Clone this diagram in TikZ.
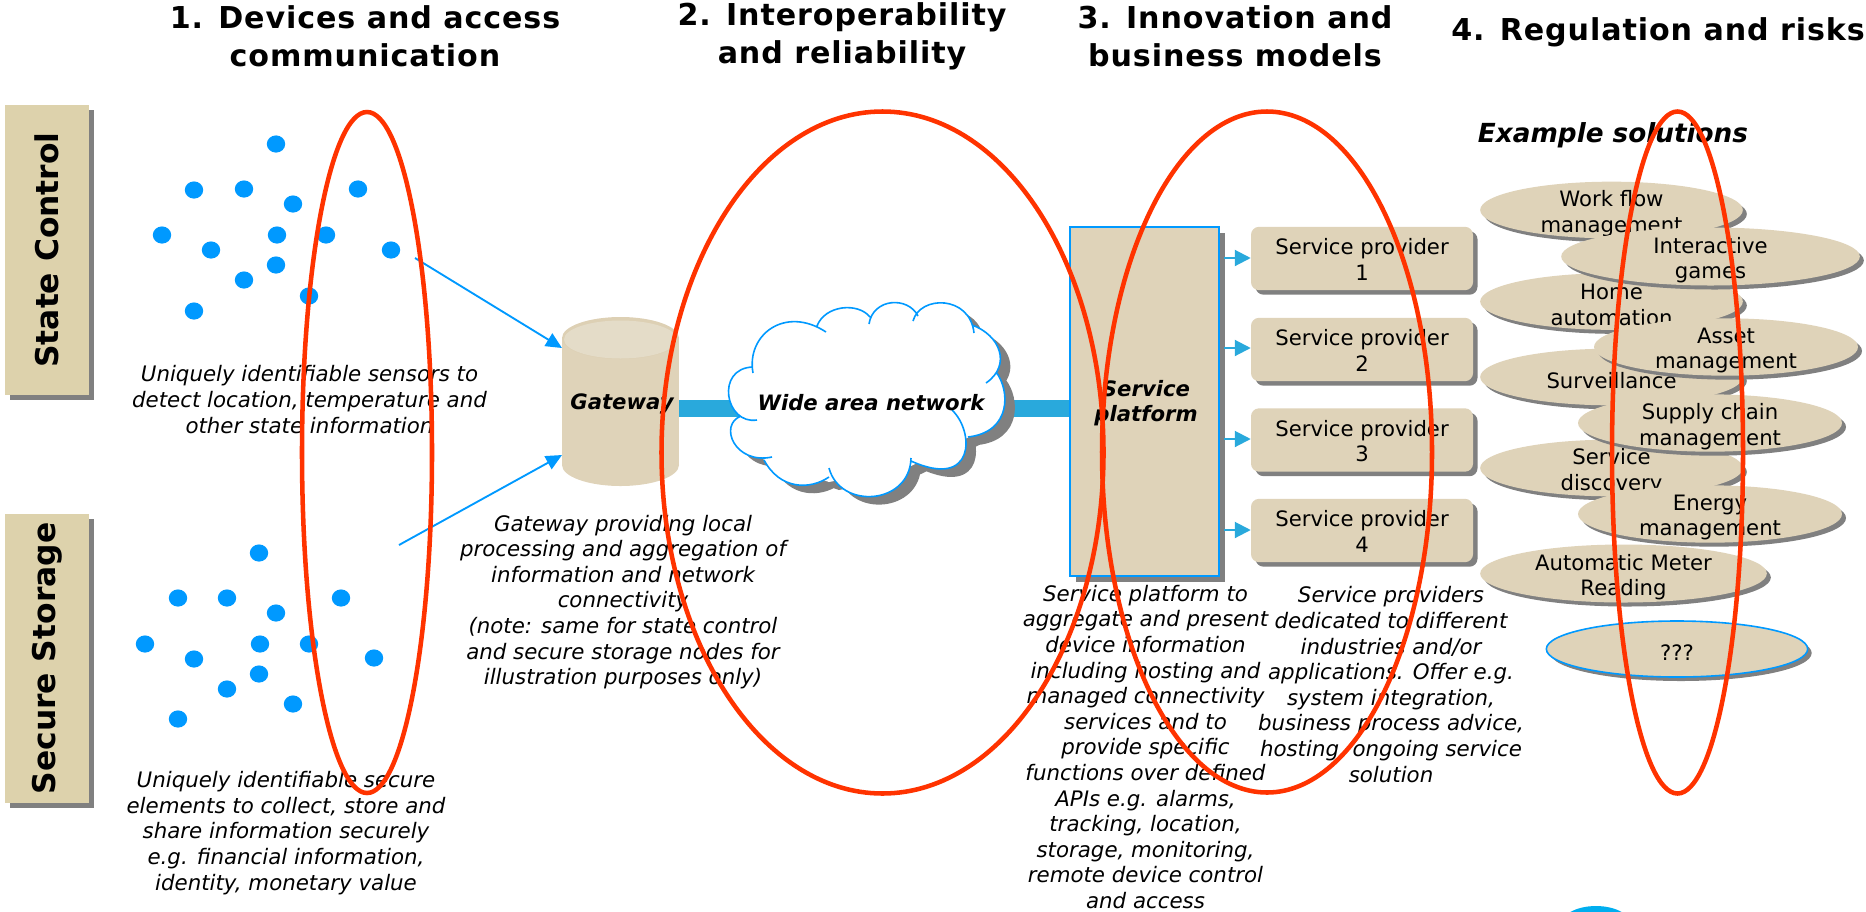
\documentclass[tikz,border=0pt]{standalone}
\usepackage{fontspec}
\usepackage{graphicx}
\setmainfont{DejaVu Sans}
\newfontfamily\headfont[LetterSpace=3]{DejaVu Sans}
\usetikzlibrary{arrows.meta,shapes.geometric,shadows}
\definecolor{tanfill}{HTML}{DFD3B9}
\definecolor{tanbox}{HTML}{DDD2AC}
\definecolor{tantop}{HTML}{E4DCC8}
\definecolor{tanrim}{HTML}{DDD0B4}
\definecolor{shadowgrey}{HTML}{808080}
\definecolor{sky}{HTML}{0099FF}
\definecolor{trunkblue}{HTML}{29A9DC}
\definecolor{redring}{HTML}{FF3300}
\definecolor{blob}{HTML}{00AEEF}
\tikzset{
  x=0.75pt,y=-0.75pt,
  headtext/.style={font=\headfont\fontsize{22.6}{28.5}\selectfont\bfseries,align=center,inner sep=0pt},
  note/.style={font=\fontsize{16}{19.2}\selectfont\itshape,align=center,inner sep=0pt},
  strong/.style={font=\fontsize{15.9}{19.2}\selectfont\bfseries\itshape,align=center,inner sep=0pt},
  sidebox/.style={rectangle,fill=tanbox,minimum width=63pt,inner sep=0pt,font=\fontsize{23.5}{26}\selectfont\bfseries,
     drop shadow={shadow xshift=3.9pt,shadow yshift=-3.9pt,fill=shadowgrey,opacity=1}},
  platform/.style={rectangle,fill=tanfill,draw=sky,line width=1.3pt,minimum width=111.7pt,minimum height=261.7pt,inner sep=0pt,
     drop shadow={shadow xshift=4.2pt,shadow yshift=-4.2pt,fill=shadowgrey,opacity=1}},
  provider/.style={rectangle,rounded corners=6pt,fill=tanfill,minimum width=166.5pt,minimum height=47.5pt,inner sep=0pt,
     font=\fontsize{15.9}{19.2}\selectfont,align=center,
     drop shadow={shadow xshift=3.4pt,shadow yshift=-3.4pt,fill=shadowgrey,opacity=1}},
  solution/.style={ellipse,fill=tanfill,inner sep=0pt,
     drop shadow={shadow xshift=3pt,shadow yshift=-3pt,fill=shadowgrey,opacity=1}},
  soltext/.style={font=\fontsize{15.9}{19.2}\selectfont,align=center,inner sep=0pt},
  ring/.style={draw=redring,line width=3.4pt},
  feed/.style={draw=sky,line width=1.4pt,-{Triangle[length=12pt,width=11pt,fill=sky]}},
  spoke/.style={draw=trunkblue,line width=1.6pt,-{Triangle[length=12pt,width=12pt,fill=trunkblue]}},
  trunk/.style={draw=trunkblue,line width=12.8pt},
  lobe/.style={draw=sky,line width=1.2pt},
  dot/.style={fill=sky},
}
% name, x, y, x-centre of text, width (pt), height (pt), extra style, text
\newcommand{\solutionnode}[7]{%
  \node[solution,minimum width=#4pt,minimum height=#5pt,#6] (#1) at (#2,#3) {};
  \node[soltext] (#1t) at ([yshift=-2.6pt]#1.center) {#7};
}
\newcommand{\cloudarcs}{
  (753,373) .. controls (746,335) and (785,305) .. (826,332)
  (817,326) .. controls (825,305) and (858,302) .. (870,317)
  (869,324) .. controls (873,298) and (908,296) .. (918,316)
  (913,321) .. controls (920,295) and (970,295) .. (974,333)
  (972,325) .. controls (1000,335) and (1012,365) .. (986,383)
  (996,372) .. controls (1010,390) and (1012,432) .. (968,437)
  (952,410) .. controls (975,432) and (975,490) .. (911,461)
  (911,458) .. controls (910,505) and (840,510) .. (829,468)
  (829,477) .. controls (810,490) and (780,490) .. (764,460)
  (772,457) .. controls (735,465) and (718,425) .. (741,416)
  (757,420) .. controls (725,425) and (715,368) .. (753,367)
}
\newcommand{\cloudfill}{
  (753,368) -- (818,326) -- (870,317) -- (917,316) -- (973,325) -- (996,372) -- (969,437) -- (911,466) -- (829,482) -- (764,460) -- (741,417) -- cycle
  \cloudarcs}
\begin{document}
\begin{tikzpicture}
\useasboundingbox (0,0) rectangle (1866,911);
\clip (0,0) rectangle (1866,911);
% headings
\node[headtext] (h1) at (365,36) {1. Devices and access\\communication};
\node[headtext] (h2) at (842,36) {2. Interoperability\\and reliability};
\node[headtext] (h3) at (1235,36) {3. Innovation and\\business models};
\node[headtext] (h4) at (1658,32) {4. Regulation and risks};
% side boxes
\node[sidebox,minimum height=217.5pt] (state) at (47,250) {\rotatebox{90}{State Control}};
\node[sidebox,minimum height=216.8pt] (secure) at (47,658.5) {\rotatebox{90}{Secure Storage}};
% sensors
\foreach \px/\py in {276/144,194/190,244/189,293/204,358/189,162/235,277/235,326/235,211/250,391/250,276/265,244/280,309/296,194/311,
  259/553,178/598,227/598,276/613,341/598,145/644,260/644,309/644,194/659,374/658,259/674,227/689,293/704,178/719}
  \fill[dot] (\px,\py) ellipse [x radius=9.2,y radius=8.6];
\node[note] (n1) at (309.5,399.5) {Uniquely identifiable sensors to\\detect location, temperature and\\other state information};
\node[note] (n2) at (286,833) {Uniquely identifiable secure\\elements to collect, store and\\share information securely\\e.g. financial information,\\identity, monetary value};
% gateway
\fill[tanfill] (562,338) rectangle (679,465);
\fill[tanfill] (620.5,465) ellipse [x radius=58.5,y radius=21];
\fill[tanrim] (620.5,338) ellipse [x radius=58.5,y radius=21];
\fill[tantop] (620.5,339.5) ellipse [x radius=56.5,y radius=19];
\coordinate (gwa) at (562,348);
\coordinate (gwb) at (562,455);
\coordinate (gwr) at (679,408.5);
\coordinate (s1) at (415,258);
\coordinate (s2) at (399,545);
\draw[feed] (s1) -- (gwa);
\draw[feed] (s2) -- (gwb);
% service platform
\node[platform] (sp) at (1144.5,401.5) {};
\draw[trunk] (gwr) -- (sp.west |- gwr);
\node[strong] (gw) at (622,403.5) {Gateway};
% cloud
\begin{scope}[shift={(10,8)}]
  \fill[shadowgrey] \cloudfill;
\end{scope}
\fill[white] \cloudfill;
\draw[lobe] \cloudarcs;
\node[strong] (wan) at (871,403) {Wide area network};
\node[strong] (spl) at (1146,403) {Service\\platform};
% providers
\node[provider] (p1) at (1362,258.5) {\rule{0pt}{13.5pt}Service provider\\1};
\node[provider] (p2) at (1362,349.5) {\rule{0pt}{13.5pt}Service provider\\2};
\node[provider] (p3) at (1362,440) {\rule{0pt}{13.5pt}Service provider\\3};
\node[provider] (p4) at (1362,530.5) {\rule{0pt}{13.5pt}Service provider\\4};
\foreach \k/\yy in {1/258,2/348,3/439,4/530} {
  \coordinate (o\k) at (1224,\yy);
  \draw[spoke] (o\k) -- (p\k.west |- o\k);
}
\node[note] (n3) at (623,602) {Gateway providing local\\processing and aggregation of\\information and network\\connectivity\\(note: same for state control\\and secure storage nodes for\\illustration purposes only)};
\node[note] (n4) at (1145.5,747) {Service platform to\\aggregate and present\\device information\\including hosting and\\managed connectivity\\services and to\\provide specific\\functions over defined\\APIs e.g. alarms,\\tracking, location,\\storage, monitoring,\\remote device control\\and access};
\node[note] (n5) at (1391,684.5) {Service providers\\dedicated to different\\industries and/or\\applications. Offer e.g.\\system integration,\\business process advice,\\hosting, ongoing service\\solution};
% solutions
\node[strong,font=\fontsize{19.7}{24}\selectfont\bfseries\itshape] (ex) at (1613,135.5) {Example solutions};
\solutionnode{e1}{1611.5}{210}{197}{42.5}{}{Work flow\\management}
\solutionnode{e3}{1611.5}{301.5}{197}{42.5}{}{Home\\automation}
\solutionnode{e5}{1611.5}{377}{197}{42.5}{}{Surveillance}
\solutionnode{e7}{1611.5}{468}{197}{42.5}{}{Service\\discovery}
\solutionnode{e2}{1710.5}{256.5}{224}{43.5}{}{Interactive\\games}
\solutionnode{e4}{1726}{347}{198}{43}{}{Asset\\management}
\solutionnode{e6}{1710}{423}{198}{43}{}{Supply chain\\management}
\solutionnode{e8}{1710}{514}{198}{43}{}{Energy\\management}
\solutionnode{e9}{1623.5}{573.5}{215}{43.5}{}{Automatic Meter\\Reading}
\solutionnode{e10}{1677}{649}{196}{42}{draw=sky,line width=1.2pt}{???}
% partial blob at the bottom edge
\fill[blob] (1596,926) ellipse [x radius=36,y radius=20];
% red rings
\draw[ring] (367,452.5) ellipse [x radius=65,y radius=340.5];
\draw[ring] (882.5,452.5) ellipse [x radius=221,y radius=341];
\draw[ring] (1267,452) ellipse [x radius=165,y radius=340.5];
\draw[ring] (1677.5,452.5) ellipse [x radius=65.5,y radius=341];
\end{tikzpicture}
\end{document}
